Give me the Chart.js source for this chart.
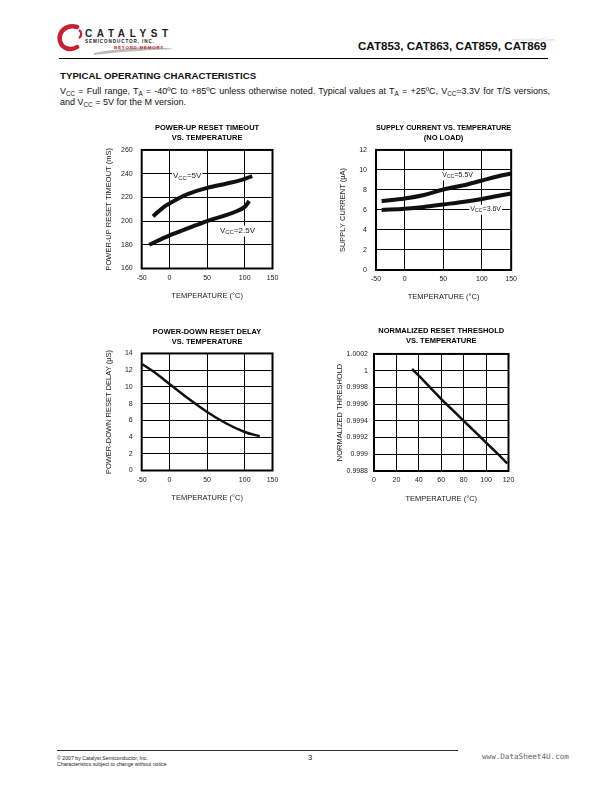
<!DOCTYPE html>
<html>
<head>
<meta charset="utf-8">
<script src="https://cdn.jsdelivr.net/npm/chart.js@4.4.0/dist/chart.umd.min.js"></script>
<style>
  body { margin: 0; width: 612px; height: 792px; position: relative; background: #fff; overflow: hidden;
         font-family: "Liberation Sans", Arial, sans-serif; color: #111; }
  .abs { position: absolute; white-space: nowrap; }
  canvas { position: absolute; }
  sub { font-size: 70%; vertical-align: -2px; line-height: 0; }
  .just { text-align: justify; text-align-last: justify; white-space: normal; }
</style>
</head>
<body>
<!-- header / logo -->
<svg class="abs" style="left:56px;top:22px" width="125" height="36" viewBox="0 0 125 36">
  <path d="M 21 5 C 10 2, 2 10, 4 19 C 6 27, 15 29, 21 25" stroke="#c8202f" stroke-width="4.5" fill="none" stroke-linecap="round"/>
  <path d="M 23 8 C 26 10, 26 14, 23 16" stroke="#c8202f" stroke-width="2.2" fill="none"/>
  <path d="M 38 31 C 70 25, 100 24, 118 27 C 100 28, 70 29, 38 33 Z" fill="#bbb"/>
  <text x="29" y="15" font-family="Liberation Sans, Arial" font-size="10" font-weight="bold" letter-spacing="4.6" fill="#222">CATALYST</text>
  <text x="29" y="21" font-family="Liberation Sans, Arial" font-size="4.6" font-weight="bold" letter-spacing="0.9" fill="#222">SEMICONDUCTOR, INC.</text>
  <text x="58" y="26.5" font-family="Liberation Sans, Arial" font-size="4.4" font-weight="bold" letter-spacing="0.8" fill="#c8202f">BEYOND MEMORY</text>
</svg>
<div class="abs" style="left:358px;top:39px;font-size:11.6px;font-weight:bold;">CAT853, CAT863, CAT859, CAT869</div>
<div class="abs" style="left:512px;top:37px;font-size:4px;color:#ccc;">www.DataSheet4U.com</div>
<div class="abs" style="left:59px;top:58px;width:489px;height:0;border-top:1.3px solid #000;"></div>
<div class="abs" style="left:60px;top:70px;font-size:9.7px;font-weight:bold;">TYPICAL OPERATING CHARACTERISTICS</div>
<div class="abs just" style="left:60px;top:85.5px;width:490px;font-size:9px;line-height:11.6px;">
V<sub>CC</sub> = Full range, T<sub>A</sub> = -40ºC to +85ºC unless otherwise noted. Typical values at T<sub>A</sub> = +25ºC, V<sub>CC</sub>=3.3V for T/S versions,</div>
<div class="abs" style="left:60px;top:97.1px;font-size:9px;line-height:11.6px;">and V<sub>CC</sub> = 5V for the M version.</div>

<canvas id="c1" width="192" height="190" style="left:98px;top:118px"></canvas>
<canvas id="c2" width="192" height="190" style="left:330px;top:118px"></canvas>
<canvas id="c3" width="192" height="190" style="left:98px;top:322px"></canvas>
<canvas id="c4" width="192" height="190" style="left:330px;top:322px"></canvas>

<!-- footer -->
<div class="abs" style="left:57px;top:750px;width:401px;height:0;border-top:1px solid #333;"></div>
<div class="abs" style="left:57px;top:755px;font-size:5.2px;line-height:6px;color:#222;">© 2007 by Catalyst Semiconductor, Inc.<br>Characteristics subject to change without notice</div>
<div class="abs" style="left:308px;top:753px;font-size:7.5px;">3</div>
<div class="abs" style="left:482px;top:752px;font-size:7.6px;font-family:'DejaVu Sans Mono',monospace;color:#666;">www.DataSheet4U.com</div>

<script>
// ---- data ----
// power-up reset timeout (mS)
const tempUp5 = [-22, -15, -5, 10, 25, 50, 75, 95, 110];
const timeoutVcc5 = [204, 208, 213, 218.5, 223, 228, 231.5, 234.5, 238];
const tempUp25 = [-27, 0, 25, 50, 75, 90, 100, 106];
const timeoutVcc25 = [180, 188, 194, 200, 205, 208.5, 212, 217];
const timeoutTicks = [160, 180, 200, 220, 240, 260];
const timeoutLabels = ['160', '180', '200', '220', '240', '260'];

// supply current (uA)
const tempSupply = [-30, 0, 25, 50, 75, 100, 120, 138];
const currentVcc55 = [6.9, 7.15, 7.5, 8.05, 8.45, 8.95, 9.35, 9.65];
const currentVcc36 = [6.0, 6.12, 6.3, 6.55, 6.8, 7.1, 7.4, 7.65];
const currentTicks = [0, 2, 4, 6, 8, 10, 12];
const currentLabels = ['0', '2', '4', '6', '8', '10', '12'];

// power-down reset delay (uS)
const tempDown = [-36, -20, 0, 25, 50, 75, 100, 120];
const delayUs = [12.7, 11.75, 10.35, 8.6, 7.0, 5.65, 4.6, 4.1];
const delayTicks = [0, 2, 4, 6, 8, 10, 12, 14];
const delayLabels = ['0', '2', '4', '6', '8', '10', '12', '14'];

// normalized reset threshold
const tempThresh = [34, 40, 50, 60, 70, 80, 90, 100, 110, 119];
const threshold = [1.00002, 0.99994, 0.9998, 0.99966, 0.99953, 0.9994, 0.99927, 0.99914, 0.99901, 0.99889];
const threshTicks = [0.9988, 0.999, 0.9992, 0.9994, 0.9996, 0.9998, 1, 1.0002];
const threshLabels = ['0.9988', '0.999', '0.9992', '0.9994', '0.9996', '0.9998', '1', '1.0002'];

// temperature axes
const tempTickLabels = ['-50', '0', '50', '100', '150'];
const tempTickLabels120 = ['0', '20', '40', '60', '80', '100', '120'];

const FONT = '"Liberation Sans", Arial, sans-serif';
Chart.defaults.font.family = FONT;
Chart.defaults.color = '#222';

const frame = {
  id: 'frame',
  afterDatasetsDraw(chart) {
    const a = chart.chartArea;
    const ctx = chart.ctx;
    ctx.save();
    ctx.lineWidth = 2;
    ctx.strokeStyle = '#000';
    ctx.strokeRect(a.left, a.top, a.right - a.left, a.bottom - a.top);
    ctx.restore();
  }
};

// "VCC=..." curve labels with subscript
const vccLabels = {
  id: 'vccLabels',
  afterDatasetsDraw(chart, args, opts) {
    const ctx = chart.ctx;
    const xs = chart.scales.x;
    const ys = chart.scales.y;
    (opts.items || []).forEach((it) => {
      const x = xs.getPixelForValue(it.x);
      const y = ys.getPixelForValue(it.y);
      const big = opts.size + 'px ' + FONT;
      const small = (opts.size * 0.75) + 'px ' + FONT;
      ctx.save();
      ctx.textBaseline = 'middle';
      ctx.font = big;
      const w1 = ctx.measureText('V').width;
      const w3 = ctx.measureText('=' + it.text).width;
      ctx.font = small;
      const w2 = ctx.measureText('CC').width;
      ctx.fillStyle = '#fff';
      ctx.fillRect(x - 1, y - opts.size / 2 - 1, w1 + w2 + w3 + 2, opts.size + 3);
      ctx.fillStyle = '#222';
      ctx.font = big;
      ctx.fillText('V', x, y);
      ctx.font = small;
      ctx.fillText('CC', x + w1, y + opts.size * 0.25);
      ctx.font = big;
      ctx.fillText('=' + it.text, x + w1 + w2, y);
      ctx.restore();
    });
  }
};

function makeChart(id, cfg) {
  return new Chart(document.getElementById(id), {
    type: 'scatter',
    data: {
      datasets: cfg.series.map((s) => ({
        data: s.x.map((v, i) => ({ x: v, y: s.y[i] })),
        showLine: true,
        borderColor: '#111',
        borderWidth: cfg.lineWidth,
        pointRadius: 0,
        tension: 0.35
      }))
    },
    options: {
      responsive: false,
      animation: false,
      events: [],
      layout: { padding: { right: cfg.padRight, left: 0, top: 0, bottom: 0 } },
      plugins: {
        legend: { display: false },
        tooltip: { enabled: false },
        title: {
          display: true,
          text: cfg.title,
          fullSize: false,
          color: '#000',
          font: { size: 7.5, weight: 'bold', lineHeight: 1.33 },
          padding: { top: cfg.titleTop, bottom: cfg.titleBottom }
        },
        vccLabels: { items: cfg.notes || [], size: cfg.noteSize || 7 }
      },
      scales: {
        x: {
          type: 'linear',
          min: cfg.xMin,
          max: cfg.xMax,
          afterBuildTicks: (s) => { s.ticks = cfg.xTicks.map((v) => ({ value: v })); },
          afterFit: (s) => { s.height = cfg.xHeight; },
          ticks: { font: { size: 7 }, padding: 5, autoSkip: false, maxRotation: 0, callback: (v, i) => cfg.xLabels[i] },
          grid: { color: '#000', lineWidth: 1, drawTicks: false },
          border: { display: false },
          title: { display: true, text: 'TEMPERATURE (°C)', font: { size: 7.5 }, padding: { top: 0, bottom: cfg.xTitlePad } }
        },
        y: {
          type: 'linear',
          min: cfg.yTicks[0],
          max: cfg.yTicks[cfg.yTicks.length - 1],
          afterBuildTicks: (s) => { s.ticks = cfg.yTicks.map((v) => ({ value: v })); },
          afterFit: (s) => { s.width = cfg.yWidth; },
          ticks: { font: { size: 7 }, padding: cfg.yTickPad, autoSkip: false, callback: (v, i) => cfg.yLabels[i] },
          grid: { color: '#000', lineWidth: 1, drawTicks: false },
          border: { display: false },
          title: { display: true, text: cfg.yTitle, font: { size: 7.5 }, padding: { top: cfg.yTitlePad, bottom: 0 } }
        }
      }
    },
    plugins: [frame, vccLabels]
  });
}

makeChart('c1', {
  title: ['POWER-UP RESET TIMEOUT', 'VS. TEMPERATURE'],
  series: [{ x: tempUp5, y: timeoutVcc5 }, { x: tempUp25, y: timeoutVcc25 }],
  lineWidth: 4,
  xMin: -37, xMax: 137, xTicks: [-37, 0, 50, 100, 137], xLabels: tempTickLabels,
  yTicks: timeoutTicks, yLabels: timeoutLabels,
  yTitle: 'POWER-UP RESET TIMEOUT (mS)',
  padRight: 17.5, yWidth: 43.7, xHeight: 39.5, titleTop: 4.7, titleBottom: 7.3,
  xTitlePad: 7.5, yTitlePad: 6.8, yTickPad: 9,
  notes: [{ x: 4.5, y: 238, text: '5V' }, { x: 67, y: 192, text: '2.5V' }], noteSize: 8
});

makeChart('c2', {
  title: ['SUPPLY CURRENT VS. TEMPERATURE', '(NO LOAD)'],
  series: [{ x: tempSupply, y: currentVcc55 }, { x: tempSupply, y: currentVcc36 }],
  lineWidth: 4,
  xMin: -37.3, xMax: 138, xTicks: [-37.3, 0, 50, 100, 138], xLabels: tempTickLabels,
  yTicks: currentTicks, yLabels: currentLabels,
  yTitle: 'SUPPLY CURRENT (µA)',
  padRight: 10, yWidth: 46, xHeight: 38, titleTop: 4.7, titleBottom: 7.3,
  xTitlePad: 6.8, yTitlePad: 8.2, yTickPad: 9,
  notes: [{ x: 48.6, y: 9.5, text: '5.5V' }, { x: 85, y: 6.07, text: '3.6V' }], noteSize: 7
});

makeChart('c3', {
  title: ['POWER-DOWN RESET DELAY', 'VS. TEMPERATURE'],
  series: [{ x: tempDown, y: delayUs }],
  lineWidth: 2.5,
  xMin: -37, xMax: 137, xTicks: [-37, 0, 50, 100, 137], xLabels: tempTickLabels,
  yTicks: delayTicks, yLabels: delayLabels,
  yTitle: 'POWER-DOWN RESET DELAY (µS)',
  padRight: 17.5, yWidth: 43.7, xHeight: 41.5, titleTop: 4.7, titleBottom: 6.8,
  xTitlePad: 9.5, yTitlePad: 6.8, yTickPad: 9
});

makeChart('c4', {
  title: ['NORMALIZED RESET THRESHOLD', 'VS. TEMPERATURE'],
  series: [{ x: tempThresh, y: threshold }],
  lineWidth: 2.5,
  xMin: 0, xMax: 120, xTicks: [0, 20, 40, 60, 80, 100, 120], xLabels: tempTickLabels120,
  yTicks: threshTicks, yLabels: threshLabels,
  yTitle: 'NORMALIZED THRESHOLD',
  padRight: 13.5, yWidth: 44, xHeight: 41, titleTop: 3.7, titleBottom: 8.3,
  xTitlePad: 8.5, yTitlePad: 5.5, yTickPad: 6
});
</script>
</body>
</html>
